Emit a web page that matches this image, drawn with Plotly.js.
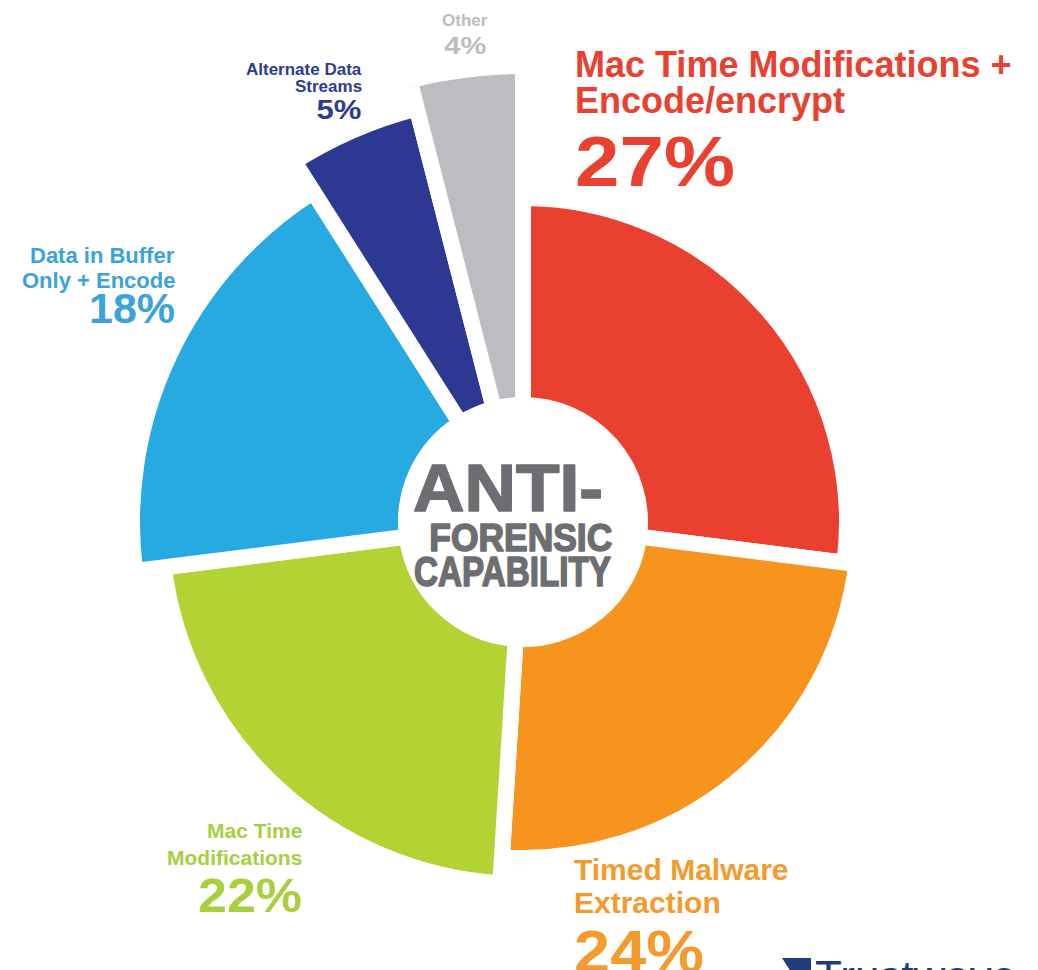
<!DOCTYPE html>
<html>
<head>
<meta charset="utf-8">
<script src="https://cdn.plot.ly/plotly-3.0.1.min.js"></script>
<style>
  html, body { margin: 0; padding: 0; background: #ffffff; }
  #chart { width: 1038px; height: 970px; }
</style>
</head>
<body>
<div id="chart"></div>
<script>
// ---- data ----
const sliceLabels = [
  ['Mac Time Modifications +', 'Encode/encrypt'],
  ['Timed Malware', 'Extraction'],
  ['Mac Time', 'Modifications'],
  ['Data in Buffer', 'Only + Encode'],
  ['Alternate Data', 'Streams'],
  ['Other']
];
const shares = [27, 24, 22, 18, 5, 4];
const centerTitle = ['ANTI-', 'FORENSIC', 'CAPABILITY'];
const brandName = 'Trustwave';

// ---- styling ----
const W = 1038, H = 970;
const CX = 523, CY = 522, RPX = 448;          // wheel centre and polar radius (px)
const sliceColors = ['#ea4030', '#f7941d', '#b3d234', '#27a9e1', '#2c3891', '#bcbdc0'];
const labelColors = ['#e8412f', '#f39b2c', '#a9cf3e', '#3ca3da', '#2f3b8e', '#bdbdbd'];
const sliceReach = [324, 336, 362, 391, 427, 459]; // outer edge of each wedge, radial-axis units = px
const innerEdge = 117;
const gapWidth = 16;

// pctWidth: drawn width of the big percentage figure (px)
const labelPlacement = [
  { x: 573, anchor: 'left',   lines: [64.5, 100.5], size: 36, pctY: 162, pctSize: 70, pctWidth: 160 },
  { x: 572, anchor: 'left',   lines: [869, 902],    size: 30, pctY: 951, pctSize: 60, pctWidth: 130 },
  { x: 304, anchor: 'right',  lines: [830, 857.5],  size: 21, pctY: 895, pctSize: 48, pctWidth: 104 },
  { x: 177, anchor: 'right',  lines: [255.5, 280.5], size: 22, pctY: 308, pctSize: 42, pctWidth: 86 },
  { x: 364, anchor: 'right',  lines: [70, 86.5],    size: 17, pctY: 109, pctSize: 28, pctWidth: 45 },
  { x: 465, anchor: 'center', lines: [20],          size: 17, pctY: 45,  pctSize: 24, pctWidth: 42 }
];
// centre title: font size sets the letter height, width sets the drawn width (px)
const titlePlacement = [
  { x: 508, y: 487.5, size: 66, width: 190 },
  { x: 521, y: 537,   size: 39, width: 183 },
  { x: 512, y: 571,   size: 42, width: 197 }
];

const px = x => x / W;
const py = y => 1 - y / H;

// wedge angles from the shares
const total = shares.reduce((a, b) => a + b, 0);
const spans = shares.map(s => 360 * s / total);
const mids = [];
let acc = 0;
spans.forEach(s => { mids.push(acc + s / 2); acc += s; });

const trace = {
  type: 'barpolar',
  theta: mids,
  width: spans,
  base: shares.map(() => innerEdge),
  r: sliceReach.map(r => r - innerEdge),
  marker: {
    color: sliceColors,
    line: { color: '#ffffff', width: gapWidth }
  },
  hoverinfo: 'skip',
  showlegend: false
};

const annotations = [];
const reshape = [];   // text items whose drawn width is adjusted after render
const labelFont = 'Liberation Sans, Arial, sans-serif';
sliceLabels.forEach((lines, i) => {
  const p = labelPlacement[i];
  lines.forEach((t, k) => {
    annotations.push({
      xref: 'paper', yref: 'paper', x: px(p.x), y: py(p.lines[k]),
      xanchor: p.anchor, yanchor: 'middle', showarrow: false, text: t,
      font: { family: labelFont, size: p.size, color: labelColors[i], weight: 'bold' }
    });
  });
  reshape.push({ index: annotations.length, width: p.pctWidth, anchor: p.anchor, stroke: null });
  annotations.push({
    xref: 'paper', yref: 'paper', x: px(p.x), y: py(p.pctY),
    xanchor: p.anchor, yanchor: 'middle', showarrow: false, text: shares[i] + '%',
    font: { family: labelFont, size: p.pctSize, color: labelColors[i], weight: 'bold' }
  });
});
centerTitle.forEach((t, k) => {
  const p = titlePlacement[k];
  reshape.push({ index: annotations.length, width: p.width, anchor: 'center', stroke: '#6d6e71' });
  annotations.push({
    xref: 'paper', yref: 'paper', x: px(p.x), y: py(p.y),
    xanchor: 'center', yanchor: 'middle', showarrow: false, text: t,
    font: { family: labelFont, size: p.size, color: '#6d6e71', weight: 'bold' }
  });
});
// brand wordmark along the bottom edge
annotations.push({
  xref: 'paper', yref: 'paper', x: px(813), y: py(976),
  xanchor: 'left', yanchor: 'middle', showarrow: false, text: brandName,
  font: { family: labelFont, size: 44, color: '#1f3d7a' }
});

const layout = {
  width: W, height: H,
  margin: { l: 0, r: 0, t: 0, b: 0 },
  paper_bgcolor: '#ffffff',
  polar: {
    domain: { x: [px(CX - RPX), px(CX + RPX)], y: [py(CY + RPX), py(CY - RPX)] },
    bgcolor: 'rgba(0,0,0,0)',
    bargap: 0,
    angularaxis: { visible: false, rotation: 90, direction: 'clockwise',
                   showgrid: false, showline: false, showticklabels: false, ticks: '' },
    radialaxis: { visible: false, range: [0, RPX], showgrid: false, showline: false,
                  showticklabels: false, ticks: '' }
  },
  shapes: [{
    type: 'path', xref: 'paper', yref: 'paper',
    path: `M${px(782)},${py(958)} L${px(811)},${py(958)} L${px(811)},${py(975)} L${px(793)},${py(975)} Z`,
    fillcolor: '#1f3d7a', line: { width: 0 }
  }],
  annotations: annotations
};

Plotly.newPlot('chart', [trace], layout, { staticPlot: true, displayModeBar: false })
  .then(gd => {
    // stretch or squeeze selected texts horizontally, keeping their anchored edge in place
    reshape.forEach(item => {
      const g = gd.querySelector(`.annotation[data-index="${item.index}"]`);
      if (!g) return;
      const txt = g.querySelector('text.annotation-text') || g.querySelector('text');
      if (!txt) return;
      const bb = txt.getBBox();
      if (!bb.width) return;
      const s = item.width / bb.width;
      const ax = item.anchor === 'left' ? bb.x
               : item.anchor === 'right' ? bb.x + bb.width
               : bb.x + bb.width / 2;
      const prev = txt.getAttribute('transform') || '';
      txt.setAttribute('transform', `${prev} translate(${ax * (1 - s)},0) scale(${s},1)`);
      if (item.stroke) {
        txt.style.stroke = item.stroke;
        txt.style.strokeWidth = '1.6px';
        txt.style.strokeLinejoin = 'round';
      }
    });
  });
</script>
</body>
</html>
